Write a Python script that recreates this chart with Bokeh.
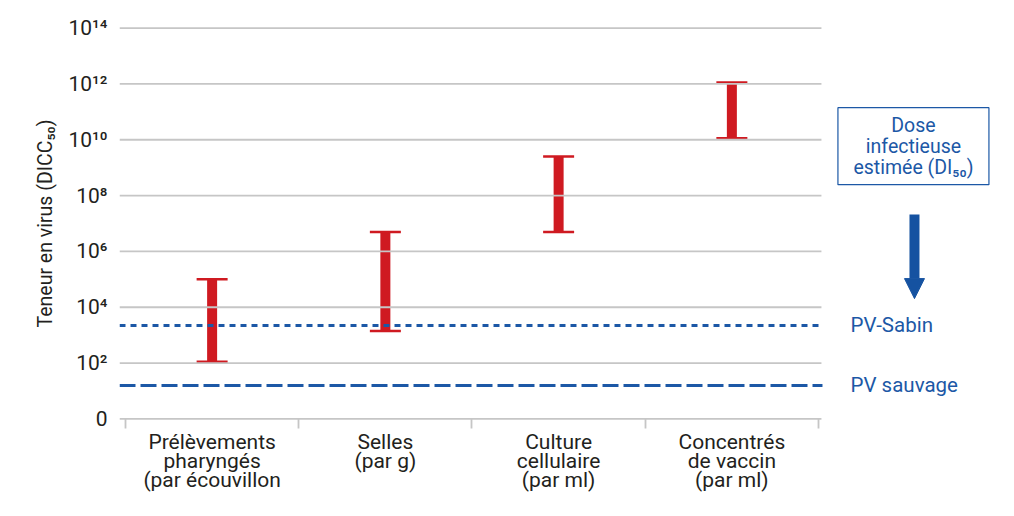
from bokeh.plotting import figure
from bokeh.models import (Range1d, FixedTicker, Whisker, TeeHead, ColumnDataSource,
                          Arrow, NormalHead)
from bokeh.core.properties import value
from bokeh.embed import file_html
from bokeh.resources import INLINE

# ---- data (exponents of 10) ----
categories = ["Prélèvements\npharyngés\n(par écouvillon",
              "Selles\n(par g)",
              "Culture\ncellulaire\n(par ml)",
              "Concentrés\nde vaccin\n(par ml)"]
low_exp = [2.05, 3.15, 6.7, 10.05]
high_exp = [5.0, 6.7, 9.4, 12.05]
sabin_level = 3.35
sauvage_level = 1.2
y_ticks = [0, 2, 4, 6, 8, 10, 12, 14]
y_tick_labels = ["0", "10²", "10⁴", "10⁶", "10⁸", "10¹⁰", "10¹²", "10¹⁴"]
threshold_labels = ["PV-Sabin", "PV sauvage"]
dose_label = "Dose\ninfectieuse\nestimée (DI₅₀)"
y_title = "Teneur en virus (DICC₅₀)"

FONT = "Roboto"
RED = "#cf1a21"
BLUE = "#1c58a6"
GRID = "#c6c6c6"
TXT = "#231f20"

n = len(categories)
centers = [i + 0.5 for i in range(n)]
x0 = -0.0346
x1 = x0 + 877 / 173.25
grid_end = n + 0.017
line_end = n + 0.023

p = figure(width=1006, height=508, output_backend="svg", toolbar_location=None,
           x_range=Range1d(x0, x1), y_range=Range1d(-0.2, 14.2),
           min_border_left=119, min_border_right=10, min_border_top=22,
           min_border_bottom=84)
p.outline_line_color = None
p.xgrid.visible = False
p.ygrid.visible = False
p.background_fill_color = "white"

# gridlines (including the 0 baseline)
p.segment(x0=[x0] * len(y_ticks), x1=[grid_end] * len(y_ticks), y0=y_ticks, y1=y_ticks,
          line_color=GRID, line_width=1.8)

# threshold lines
p.segment(x0=[x0], x1=[line_end], y0=[sabin_level], y1=[sabin_level],
          line_color=BLUE, line_width=3, line_dash="6 5")
p.segment(x0=[x0], x1=[line_end], y0=[sauvage_level], y1=[sauvage_level],
          line_color=BLUE, line_width=3, line_dash="16 5")
p.text(x=[n + 0.185] * 2, y=[sabin_level, sauvage_level], text=threshold_labels,
       text_font=value(FONT), text_font_size="20.5px", text_color=BLUE,
       text_baseline="middle", text_align="left")

# error bars
src = ColumnDataSource(dict(x=centers, lo=low_exp, hi=high_exp))
w = Whisker(base="x", lower="lo", upper="hi", source=src, dimension="height",
            line_color=RED, line_width=10,
            upper_head=TeeHead(size=31, line_color=RED, line_width=2.5),
            lower_head=TeeHead(size=31, line_color=RED, line_width=2.5))
p.add_layout(w)

# dose box + arrow
bx, by = n + 0.548, 9.77
p.rect(x=[bx], y=[by], width=151, height=77, width_units="screen", height_units="screen",
       fill_color="white", line_color=BLUE, line_width=1.2)
p.text(x=[bx], y=[by], text=[dose_label], text_font=value(FONT), text_font_size="19.5px",
       text_color=BLUE, text_align="center", text_baseline="middle", text_line_height=0.92)
p.add_layout(Arrow(x_start=n + 0.554, y_start=7.32, x_end=n + 0.554, y_end=4.31,
                   line_color="#1552a1", line_width=10,
                   end=NormalHead(size=20, fill_color="#1552a1", line_color="#1552a1")))

# x axis
xa = p.xaxis[0]
xa.ticker = FixedTicker(ticks=centers, minor_ticks=list(range(n + 1)))
xa.major_label_overrides = {c: lab for c, lab in zip(centers, categories)}
xa.axis_line_color = None
xa.major_tick_line_color = None
xa.major_tick_out = 0
xa.major_tick_in = 0
xa.minor_tick_line_color = GRID
xa.minor_tick_line_width = 1.8
xa.minor_tick_in = 6
xa.minor_tick_out = 4
xa.major_label_standoff = 1
xa.major_label_text_font = FONT
xa.major_label_text_font_size = "21px"
xa.major_label_text_line_height = 0.8
xa.major_label_text_color = TXT

# y axis
ya = p.yaxis[0]
ya.ticker = FixedTicker(ticks=y_ticks)
ya.major_label_overrides = {t: lab for t, lab in zip(y_ticks, y_tick_labels)}
ya.axis_line_color = None
ya.major_tick_line_color = None
ya.minor_tick_line_color = None
ya.major_tick_out = 0
ya.major_tick_in = 0
ya.major_label_standoff = 12
ya.major_label_text_font = FONT
ya.major_label_text_font_size = "21px"
ya.major_label_text_color = TXT
ya.axis_label = y_title
ya.axis_label_text_font = FONT
ya.axis_label_text_font_style = "normal"
ya.axis_label_text_font_size = "19.5px"
ya.axis_label_text_color = TXT
ya.axis_label_standoff = 8

open("out.html", "w").write(file_html(p, INLINE))
